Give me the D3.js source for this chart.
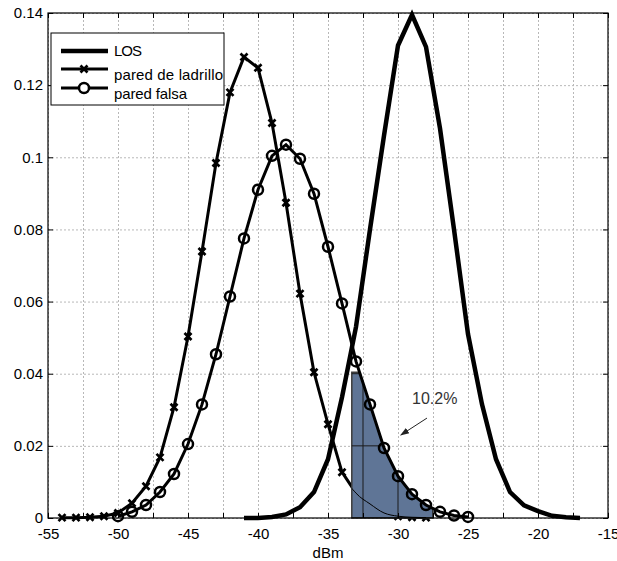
<html>
<head>
  <title>Distribución de potencia recibida</title>
  <script src="https://d3js.org/d3.v7.min.js"></script>
  <style>
    body { margin: 0; background: #fff; }
    svg text { font-family: "Liberation Sans", Arial, sans-serif; }
    /* dotted grey gridlines, no domain line */
    .gridlines line { stroke: #b8b8b8; stroke-dasharray: 2,2; }
    .gridlines .domain { stroke: none; }
    .axis .domain { stroke: none; }
    .axis line { stroke: #000; }
    .axis text { font-size: 15px; fill: #000; }
  </style>
</head>
<body>
  <svg id="chart" width="617" height="561"></svg>

  <script>
    // bins in dBm and probability per bin
    const losDbm = [-41, -40, -39, -38, -37, -36, -35, -34, -33, -32, -31, -30, -29,
                    -28, -27, -26, -25, -24, -23, -22, -21, -20, -19, -18, -17];
    const losP = [0, 0, 0.0003, 0.001, 0.003, 0.0072, 0.0163, 0.0335, 0.053, 0.080, 0.106, 0.131, 0.1395,
                  0.1306, 0.108, 0.080, 0.051, 0.0315, 0.0163, 0.0072, 0.0035, 0.0019, 0.0006, 0.0002, 0];

    const ladrilloDbm = [-54, -53, -52, -51, -50, -49, -48, -47, -46, -45, -44, -43, -42, -41,
                         -40, -39, -38, -37, -36, -35, -34, -33, -32, -31, -30, -29, -28];
    const ladrilloP = [0.0001, 0.0001, 0.0002, 0.0005, 0.0014, 0.0041, 0.0088, 0.0168, 0.0307, 0.0503, 0.0739, 0.0984, 0.118, 0.1278,
                       0.1248, 0.1095, 0.0874, 0.0622, 0.0404, 0.026, 0.0127, 0.0069, 0.0039, 0.0014, 0.0005, 0.0002, 0.0001];

    const falsaDbm = [-50, -49, -48, -47, -46, -45, -44, -43, -42, -41, -40, -39, -38,
                      -37, -36, -35, -34, -33, -32, -31, -30, -29, -28, -27, -26, -25];
    const falsaP = [0.0005, 0.0017, 0.0036, 0.0072, 0.0122, 0.0205, 0.0315, 0.0454, 0.0614, 0.0775, 0.091, 0.1004, 0.1035,
                    0.0996, 0.0899, 0.0752, 0.0595, 0.0434, 0.0315, 0.0194, 0.0116, 0.0066, 0.0036, 0.0017, 0.0007, 0.0003];

    // shaded region (10.2%)
    const shadeDbm = [-33.3, -33.3, -32.75, -32, -31, -30, -29, -28, -27.5, -27.5];
    const shadeP = [0, 0.0404, 0.0404, 0.0315, 0.0194, 0.0116, 0.0066, 0.0036, 0.0026, 0];

    const xTicks = [-55, -52.5, -50, -47.5, -45, -42.5, -40, -37.5, -35, -32.5, -30, -27.5, -25, -22.5, -20, -17.5, -15];
    const yTicks = [0, 0.02, 0.04, 0.06, 0.08, 0.1, 0.12, 0.14];

    const legendNames = ["LOS", "pared de ladrillo", "pared falsa"];

    const svg = d3.select("svg#chart");
    const margin = { top: 13, right: 9, bottom: 42, left: 48 };
    const width = +svg.attr("width");
    const height = +svg.attr("height");
    const chartWidth = width - margin.left - margin.right;
    const chartHeight = height - margin.top - margin.bottom - 1;

    const xScale = d3.scaleLinear().domain([-55, -15]).range([margin.left, margin.left + chartWidth]);
    const yScale = d3.scaleLinear().domain([0, 0.14]).range([margin.top + chartHeight, margin.top]);
    const x0 = margin.left, x1 = margin.left + chartWidth;
    const y0 = margin.top + chartHeight, y1 = margin.top;

    const zip = (xs, ys) => xs.map((d, i) => [d, ys[i]]);
    const los = zip(losDbm, losP);
    const ladrillo = zip(ladrilloDbm, ladrilloP);
    const falsa = zip(falsaDbm, falsaP);
    const shade = zip(shadeDbm, shadeP);

    const line = d3.line().x(d => xScale(d[0])).y(d => yScale(d[1]));

    // gridlines
    svg.append("g").attr("class", "gridlines")
      .attr("transform", `translate(0,${y0})`)
      .call(d3.axisBottom(xScale).tickValues(xTicks).tickSize(-chartHeight).tickFormat(""));
    svg.append("g").attr("class", "gridlines")
      .attr("transform", `translate(${x0},0)`)
      .call(d3.axisLeft(yScale).tickValues(yTicks).tickSize(-chartWidth).tickFormat(""));

    let plot = svg.append("g");

    plot.append("path").datum(los)
      .attr("fill", "none").attr("stroke", "#000").attr("stroke-width", 4.5)
      .attr("stroke-linejoin", "miter").attr("d", line);

    plot.append("path").datum(ladrillo)
      .attr("fill", "none").attr("stroke", "#000").attr("stroke-width", 3).attr("d", line);

    const cross = d => `M${xScale(d[0]) - 3.5},${yScale(d[1]) - 3.5}l7,7M${xScale(d[0]) - 3.5},${yScale(d[1]) + 3.5}l7,-7`;
    plot.selectAll("path.xmark").data(ladrillo).join("path")
      .attr("class", "xmark")
      .attr("d", cross)
      .attr("stroke", "#000").attr("stroke-width", 2.7);

    // shaded area and what shows through it
    svg.append("clipPath").attr("id", "shadeClip")
      .append("path").datum(shade).attr("d", d => line(d) + "Z");

    plot.append("path").datum(shade)
      .attr("d", d => line(d) + "Z")
      .attr("fill", "#5f7596").attr("stroke", "#3c3c3c").attr("stroke-width", 1.5);

    let inside = plot.append("g").attr("clip-path", "url(#shadeClip)");
    inside.selectAll("line.vg").data(xTicks).join("line")
      .attr("x1", d => xScale(d)).attr("x2", d => xScale(d))
      .attr("y1", y0).attr("y2", y1)
      .attr("stroke", "#1a1a1a").attr("stroke-width", 1);
    inside.selectAll("line.hg").data(yTicks).join("line")
      .attr("x1", x0).attr("x2", x1)
      .attr("y1", d => yScale(d)).attr("y2", d => yScale(d))
      .attr("stroke", "#1a1a1a").attr("stroke-width", 1);
    inside.append("path").datum(ladrillo)
      .attr("fill", "none").attr("stroke", "#000").attr("stroke-width", 1).attr("d", d3.line().curve(d3.curveMonotoneX).x(d => xScale(d[0])).y(d => yScale(d[1])));

    plot.append("path").datum(falsa)
      .attr("fill", "none").attr("stroke", "#000").attr("stroke-width", 3).attr("d", line);
    plot.selectAll("circle.omark").data(falsa).join("circle")
      .attr("class", "omark")
      .attr("cx", d => xScale(d[0])).attr("cy", d => yScale(d[1])).attr("r", 5)
      .attr("fill", "none").attr("stroke", "#000").attr("stroke-width", 2.5);

    // axes with inward ticks
    svg.append("g").attr("class", "axis")
      .attr("transform", `translate(0,${y0})`)
      .call(d3.axisBottom(xScale).tickValues(xTicks).tickSizeInner(-5).tickSizeOuter(0).tickPadding(10)
        .tickFormat(d => d % 5 === 0 ? String(d) : ""));
    svg.append("g").attr("class", "axis")
      .attr("transform", `translate(0,${y1})`)
      .call(d3.axisTop(xScale).tickValues(xTicks).tickSizeInner(-5).tickSizeOuter(0).tickFormat(""));
    svg.append("g").attr("class", "axis")
      .attr("transform", `translate(${x0},0)`)
      .call(d3.axisLeft(yScale).tickValues(yTicks).tickSizeInner(-5).tickSizeOuter(0).tickPadding(5)
        .tickFormat(d => String(d)));
    svg.append("g").attr("class", "axis")
      .attr("transform", `translate(${x1},0)`)
      .call(d3.axisRight(yScale).tickValues(yTicks).tickSizeInner(-5).tickSizeOuter(0).tickFormat(""));

    svg.append("rect")
      .attr("x", x0).attr("y", y1).attr("width", x1 - x0).attr("height", y0 - y1)
      .attr("fill", "none").attr("stroke", "#000").attr("stroke-width", 1.2);

    svg.append("text")
      .attr("x", (x0 + x1) / 2).attr("y", 558)
      .attr("text-anchor", "middle").attr("font-size", 15)
      .text("dBm");

    // legend
    let legend = svg.append("g").attr("transform", "translate(51,33)");
    legend.append("rect").attr("width", 173).attr("height", 72)
      .attr("fill", "#fff").attr("stroke", "#000").attr("stroke-width", 1);
    const lineY = [18, 36, 55];
    const textY = [18, 42, 61];
    legend.selectAll("text").data(legendNames).join("text")
      .attr("x", 63).attr("y", (d, i) => textY[i]).attr("dy", "0.35em")
      .attr("font-size", 15).attr("textLength", (d, i) => [28, 109, 73][i])
      .text(d => d);
    legend.selectAll("line").data(legendNames).join("line")
      .attr("x1", 10).attr("x2", 57)
      .attr("y1", (d, i) => lineY[i]).attr("y2", (d, i) => lineY[i])
      .attr("stroke", "#000").attr("stroke-width", (d, i) => i === 0 ? 4.5 : 3);
    legend.append("path")
      .attr("d", `M${33 - 3.5},${lineY[1] - 3.5}l7,7M${33 - 3.5},${lineY[1] + 3.5}l7,-7`)
      .attr("stroke", "#000").attr("stroke-width", 2.7);
    legend.append("circle").attr("cx", 33).attr("cy", lineY[2]).attr("r", 5)
      .attr("fill", "#fff").attr("stroke", "#000").attr("stroke-width", 2.5);

    // annotation
    svg.append("defs").append("marker")
      .attr("id", "arrow").attr("viewBox", "0 0 10 10")
      .attr("refX", 9).attr("refY", 5)
      .attr("markerWidth", 9).attr("markerHeight", 9)
      .attr("orient", "auto")
      .append("path").attr("d", "M0,1.5L10,5L0,8.5Z").attr("fill", "#222");
    svg.append("line")
      .attr("x1", xScale(-27.93)).attr("y1", yScale(0.0277))
      .attr("x2", xScale(-29.8)).attr("y2", yScale(0.023))
      .attr("stroke", "#222").attr("stroke-width", 1)
      .attr("marker-end", "url(#arrow)");
    svg.append("text")
      .attr("x", xScale(-29.0)).attr("y", yScale(0.0317))
      .attr("font-size", 16).attr("fill", "#333")
      .text("10.2%");
  </script>
</body>
</html>
